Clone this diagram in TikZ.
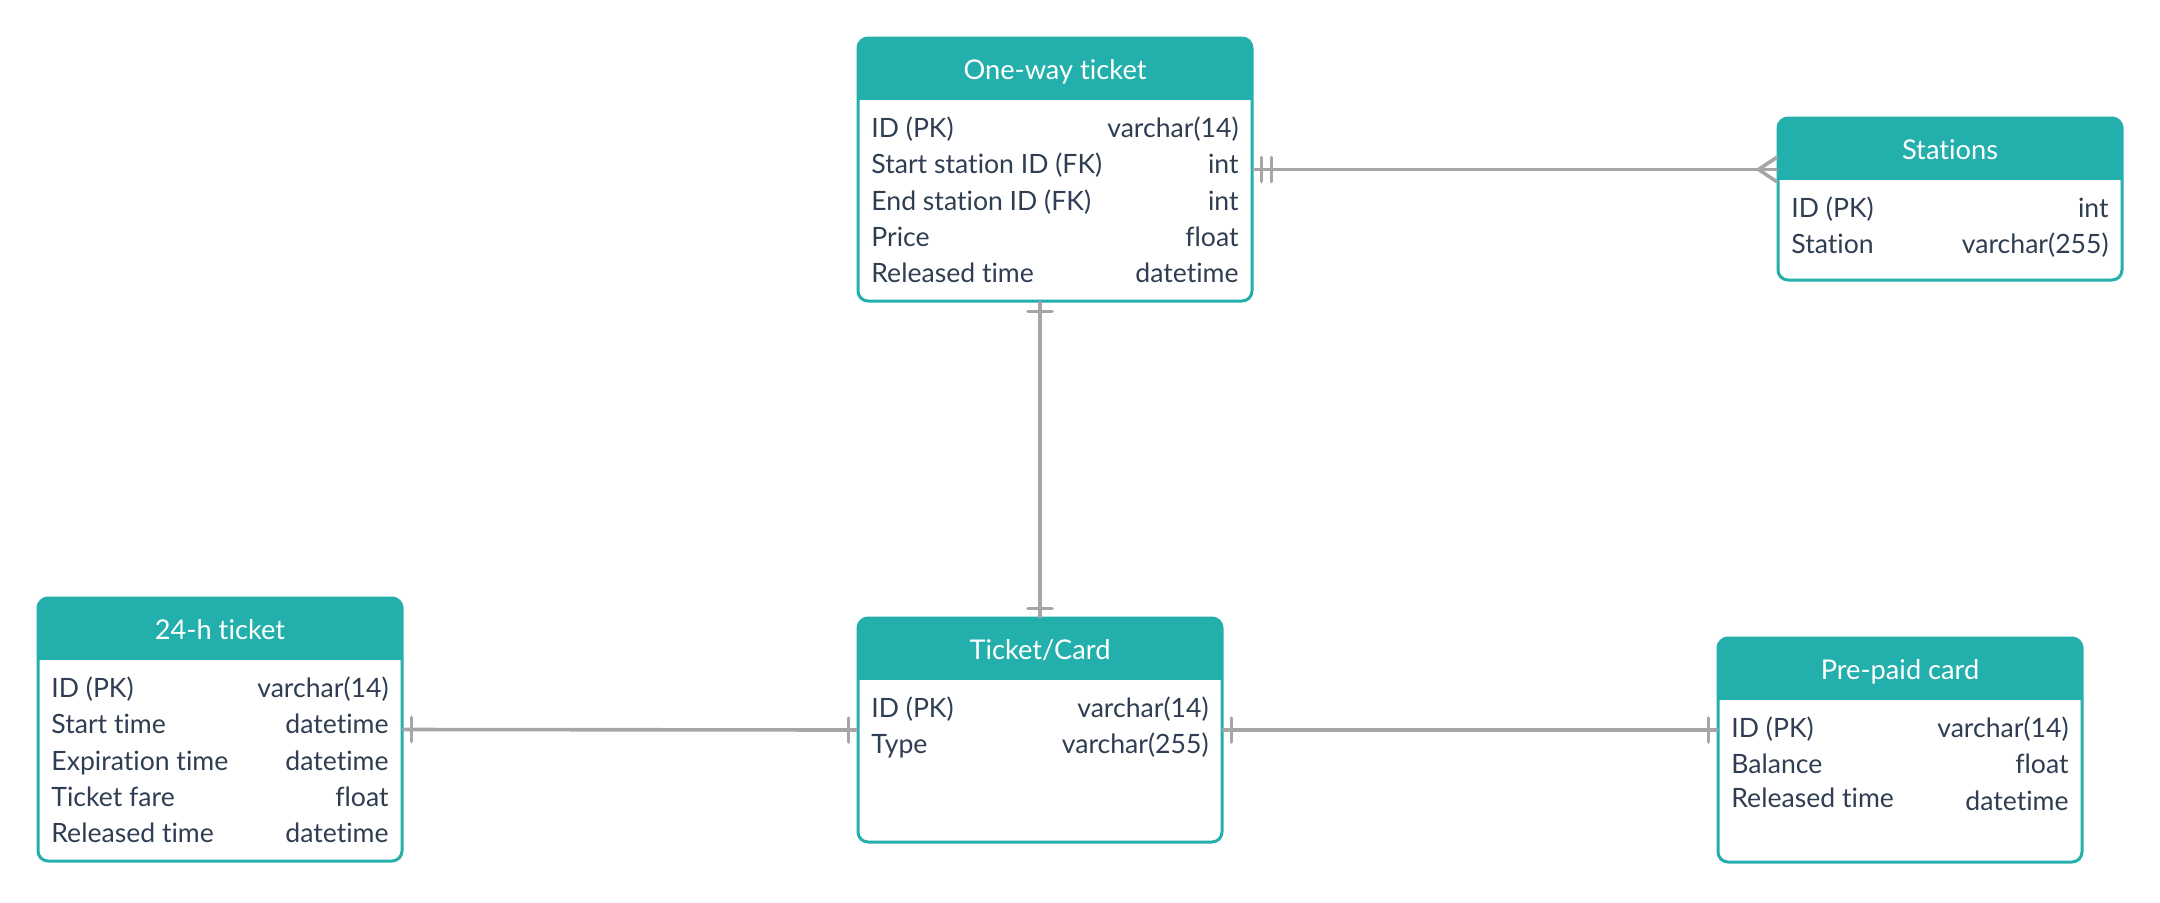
\documentclass[tikz,border=0pt]{standalone}
\usepackage{fontspec}
\setmainfont{Lato}[Ligatures=NoCommon]
\usetikzlibrary{calc}

\definecolor{erteal}{RGB}{35,175,172}
\definecolor{erink}{RGB}{47,62,82}
\definecolor{erline}{RGB}{166,166,166}

\tikzset{
  entity/.style={draw=erteal, line width=1.5pt, rounded corners=5pt, fill=white, inner sep=0pt,
    path picture={\fill[erteal, sharp corners] (path picture bounding box.north west)
      rectangle ([yshift=-31pt]path picture bounding box.north east);}},
  title/.style={anchor=base, inner sep=0pt, text=white, font=\fontsize{13.6}{16}\selectfont},
  key/.style={anchor=base west, inner sep=0pt, text=erink, font=\fontsize{13.3}{16}\selectfont},
  type/.style={anchor=base east, inner sep=0pt, text=erink, font=\fontsize{13.3}{16}\selectfont},
  relation/.style={draw=erline, line width=1.8pt, line cap=round}
}

\begin{document}
\begin{tikzpicture}[x=0.5pt, y=-0.5pt]
    \useasboundingbox (0,0) rectangle (2160,902);

    % tables
    \node[entity, minimum width=197pt, minimum height=131.5pt] (one) at (1055,169.5) {};
    \node[entity, minimum width=172pt, minimum height=81pt] (stations) at (1950,199) {};
    \node[entity, minimum width=182pt, minimum height=131.5pt] (day) at (220,729.5) {};
    \node[entity, minimum width=182pt, minimum height=112pt] (card) at (1040,730) {};
    \node[entity, minimum width=182pt, minimum height=112pt] (prepaid) at (1900,750) {};

    \node[title] (one-title) at (1055,79) {One-way ticket};
    \node[title] (stations-title) at (1950,159) {Stations};
    \node[title] (day-title) at (220,639) {24-h ticket};
    \node[title] (card-title) at (1040,659) {Ticket/Card};
    \node[title] (prepaid-title) at (1900,679) {Pre-paid card};

    % one-way ticket
    \node[key] (one-k1) at (871,137) {ID (PK)};
    \node[type] (one-t1) at (1239,137) {varchar(14)};
    \node[key] (one-k2) at (871,173) {Start station ID (FK)};
    \node[type] (one-t2) at (1239,173) {int};
    \node[key] (one-k3) at (871,210) {End station ID (FK)};
    \node[type] (one-t3) at (1239,210) {int};
    \node[key] (one-k4) at (871,246) {Price};
    \node[type] (one-t4) at (1239,246) {float};
    \node[key] (one-k5) at (871,282) {Released time};
    \node[type] (one-t5) at (1239,282) {datetime};

    % stations
    \node[key] (stations-k1) at (1791,217) {ID (PK)};
    \node[type] (stations-t1) at (2109,217) {int};
    \node[key] (stations-k2) at (1791,253) {Station};
    \node[type] (stations-t2) at (2109,253) {varchar(255)};

    % 24-h ticket
    \node[key] (day-k1) at (51,697) {ID (PK)};
    \node[type] (day-t1) at (389,697) {varchar(14)};
    \node[key] (day-k2) at (51,733) {Start time};
    \node[type] (day-t2) at (389,733) {datetime};
    \node[key] (day-k3) at (51,770) {Expiration time};
    \node[type] (day-t3) at (389,770) {datetime};
    \node[key] (day-k4) at (51,806) {Ticket fare};
    \node[type] (day-t4) at (389,806) {float};
    \node[key] (day-k5) at (51,842) {Released time};
    \node[type] (day-t5) at (389,842) {datetime};

    % ticket/card
    \node[key] (card-k1) at (871,717) {ID (PK)};
    \node[type] (card-t1) at (1209,717) {varchar(14)};
    \node[key] (card-k2) at (871,753) {Type};
    \node[type] (card-t2) at (1209,753) {varchar(255)};

    % pre-paid card
    \node[key] (prepaid-k1) at (1731,737) {ID (PK)};
    \node[type] (prepaid-t1) at (2069,737) {varchar(14)};
    \node[key] (prepaid-k2) at (1731,773) {Balance};
    \node[type] (prepaid-t2) at (2069,773) {float};
    \node[key] (prepaid-k3) at (1731,807) {Released time};
    \node[type] (prepaid-t3) at (2069,810) {datetime};

    % relations
    \coordinate (crow) at (one.east -| stations.west);
    \coordinate (top) at (card.north |- one.south);
    \coordinate (side) at (card.east -| prepaid.west);

    \draw[relation] (one.east) -- (crow);
    \draw[relation] ([xshift=4pt]one.east) ++(0,6pt) -- ++(0,-12pt);
    \draw[relation] ([xshift=9pt]one.east) ++(0,6pt) -- ++(0,-12pt);
    \draw[relation] ([yshift=6pt]crow) -- ([xshift=-9pt]crow) -- ([yshift=-6pt]crow);

    \draw[relation] (top) -- (card.north);
    \draw[relation] ([yshift=-4.5pt]top) ++(-6pt,0) -- ++(12pt,0);
    \draw[relation] ([yshift=4pt]card.north) ++(-6pt,0) -- ++(12pt,0);

    \draw[relation] (day.east) -- (card.west);
    \draw[relation] ([xshift=4pt]day.east) ++(0,6pt) -- ++(0,-12pt);
    \draw[relation] ([xshift=-4pt]card.west) ++(0,6pt) -- ++(0,-12pt);

    \draw[relation] (card.east) -- (side);
    \draw[relation] ([xshift=4pt]card.east) ++(0,6pt) -- ++(0,-12pt);
    \draw[relation] ([xshift=-4pt]side) ++(0,6pt) -- ++(0,-12pt);
\end{tikzpicture}
\end{document}
